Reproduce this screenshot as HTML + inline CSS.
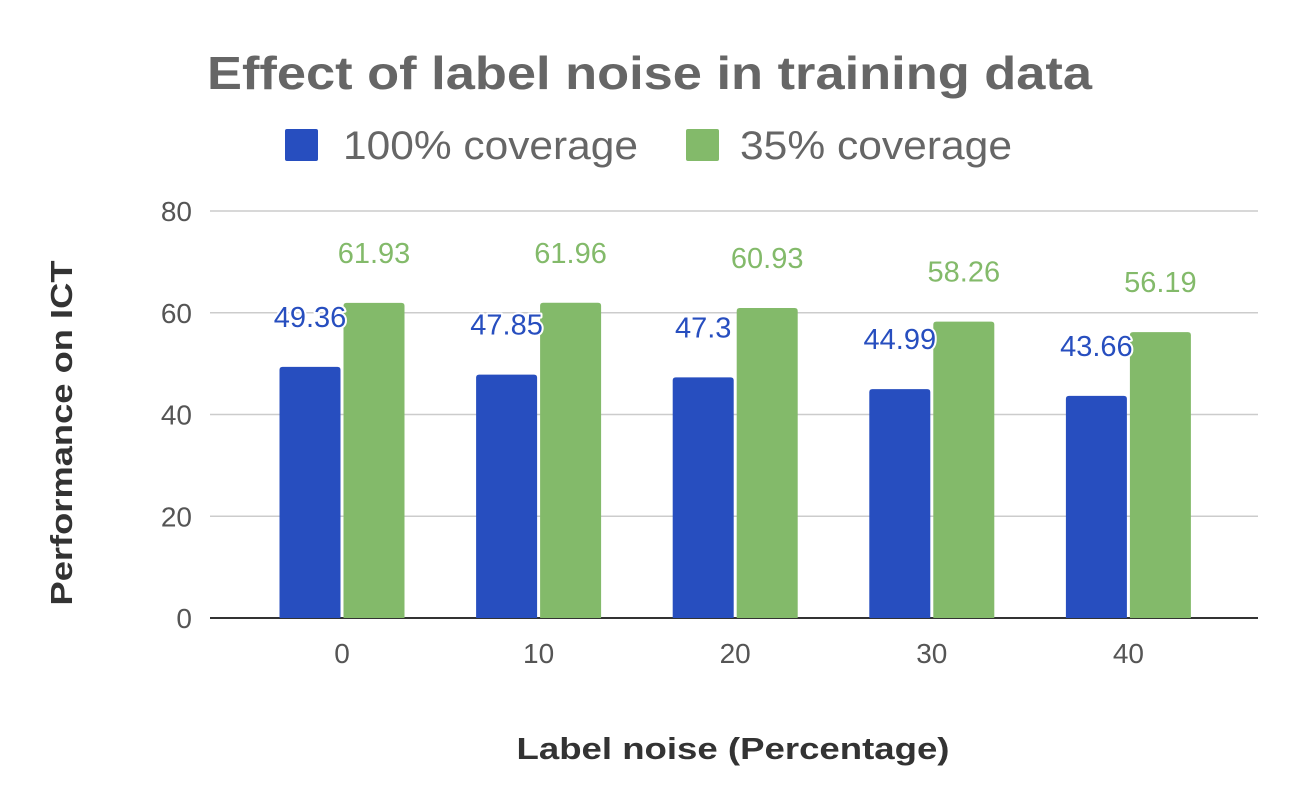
<!DOCTYPE html>
<html><head><meta charset="utf-8"><style>
html,body{margin:0;padding:0;background:#fff;}
svg{display:block;font-family:"Liberation Sans",sans-serif;}
</style></head><body>
<svg id="chart" width="1300" height="807" viewBox="0 0 1300 807">
<text x="207" y="89" font-size="46" font-weight="bold" fill="#666" textLength="885" lengthAdjust="spacingAndGlyphs">Effect of label noise in training data</text>
<g>
<rect x="285" y="129" width="33" height="32" rx="2" fill="#274ebf"/>
<text x="343" y="159" font-size="40" fill="#666" textLength="295" lengthAdjust="spacingAndGlyphs">100% coverage</text>
<rect x="686" y="129" width="33" height="32" rx="2" fill="#83ba6a"/>
<text x="740" y="159" font-size="40" fill="#666" textLength="272" lengthAdjust="spacingAndGlyphs">35% coverage</text>
</g>
<text transform="translate(72,433) rotate(-90)" text-anchor="middle" font-size="31" font-weight="bold" fill="#333" textLength="345" lengthAdjust="spacingAndGlyphs">Performance on ICT</text>
<text x="733" y="759" text-anchor="middle" font-size="31" font-weight="bold" fill="#333" textLength="433" lengthAdjust="spacingAndGlyphs">Label noise (Percentage)</text>
<g id="grid"></g><g id="bars"></g><g id="labels"></g>
</svg>
<script>
const categories = ["0","10","20","30","40"];
const series100 = [49.36, 47.85, 47.3, 44.99, 43.66];
const series35 = [61.93, 61.96, 60.93, 58.26, 56.19];
const yTicks = [0, 20, 40, 60, 80];
const NS = "http://www.w3.org/2000/svg";
const x0 = 210, x1 = 1258, yBase = 618, yTop = 211, yMax = 80;
const catStart = 243.7, band = 196.6;
function yScale(v){ return yBase - (v / yMax) * (yBase - yTop); }
function xCenter(i){ return catStart + band * (i + 0.5); }
function mk(tag, attrs, parent){ const e = document.createElementNS(NS, tag); for (const k in attrs) e.setAttribute(k, attrs[k]); parent.appendChild(e); return e; }
const grid = document.getElementById('grid'), bars = document.getElementById('bars'), labels = document.getElementById('labels');
yTicks.forEach(t => {
  const y = yScale(t);
  const l = mk('line', {x1: x0, x2: x1, y1: y, y2: y, stroke: t === 0 ? '#333' : '#ccc', 'stroke-width': t === 0 ? 2 : 1.5}, grid);
  
  
  const tx = mk('text', {x: 192, y: y + 10, 'text-anchor': 'end', 'font-size': 28, fill: '#555'}, grid);
  tx.textContent = t;
  
  
});
const bw = 61, gap = 3;
categories.forEach((c, i) => {
  const cx = xCenter(i);
  const tx = mk('text', {x: cx, y: 663, 'text-anchor': 'middle', 'font-size': 28, fill: '#555'}, labels);
  tx.textContent = c;
  
  
  [[series100[i], '#274ebf', cx - gap/2 - bw, 'bar-100'], [series35[i], '#83ba6a', cx + gap/2, 'bar-35']].forEach(([v, col, bx, nm]) => {
    const yt = yScale(v);
    const r = mk('path', {d: `M${bx},${yBase} V${yt+3} Q${bx},${yt} ${bx+3},${yt} H${bx+bw-3} Q${bx+bw},${yt} ${bx+bw},${yt+3} V${yBase} Z`, fill: col}, bars);
    
    
    const lb = mk('text', {x: bx + bw/2, y: yt - 40, 'text-anchor': 'middle', 'font-size': 29, fill: col, stroke: '#fff', 'stroke-width': 4, 'paint-order': 'stroke', 'stroke-linejoin': 'round'}, labels);
    lb.textContent = v;
    
    
  });
});
</script>
</body></html>
